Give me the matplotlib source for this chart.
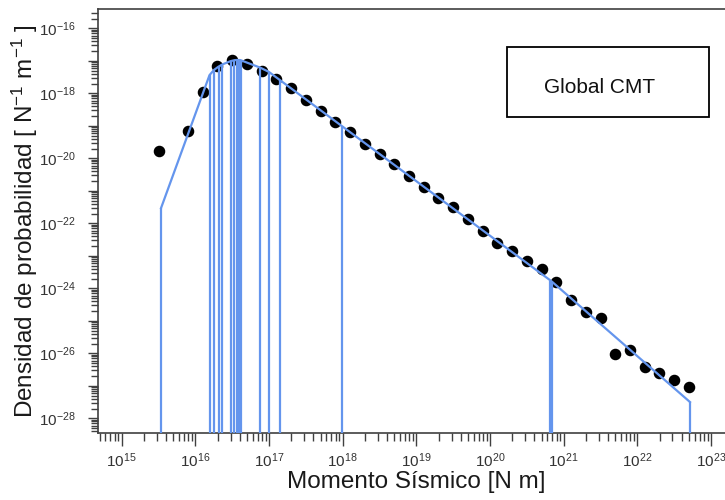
import numpy as np
import matplotlib
matplotlib.use('Agg')
import matplotlib.pyplot as plt
from matplotlib.ticker import LogLocator, FuncFormatter, NullFormatter
from matplotlib.patches import Rectangle

plt.rcParams['font.family'] = ['Liberation Sans', 'DejaVu Sans']
plt.rcParams['mathtext.fontset'] = 'custom'
plt.rcParams['mathtext.rm'] = 'Liberation Sans'
plt.rcParams['mathtext.it'] = 'Liberation Sans:italic'
plt.rcParams['mathtext.default'] = 'regular'

# binned event density (log10 of moment in N m, log10 of density)
bin_logM = [15.5, 15.9, 16.1, 16.3, 16.5, 16.7, 16.9, 17.1, 17.3, 17.5, 17.7, 17.9,
            18.1, 18.3, 18.5, 18.7, 18.9, 19.1, 19.3, 19.5, 19.7, 19.9, 20.1, 20.3,
            20.5, 20.7, 20.9, 21.1, 21.3, 21.5, 21.7, 21.9, 22.1, 22.3, 22.5, 22.7]
bin_logPdf = [-19.78, -19.16, -17.97, -17.16, -16.975, -17.10, -17.30, -17.56, -17.85,
              -18.21, -18.54, -18.87, -19.20, -19.56, -19.88, -20.18, -20.54, -20.89,
              -21.21, -21.51, -21.87, -22.23, -22.62, -22.85, -23.16, -23.41, -23.81,
              -24.36, -24.74, -24.92, -26.03, -25.90, -26.41, -26.60, -26.82, -27.03]

# fitted density evaluated at individual event moments
fit_logM = [15.534, 16.192, 16.253, 16.314, 16.368, 16.478, 16.531, 16.559, 16.586,
            16.613, 16.880, 16.997, 17.146, 17.984, 20.821, 20.848, 22.715]
fit_logPdf = [-21.53, -17.44, -17.28, -17.18, -17.11, -17.01, -16.98, -16.975, -16.975,
              -16.98, -17.21, -17.34, -17.59, -19.00, -23.76, -23.81, -27.50]

xlim_log = (14.678, 23.19)
ylim_log = (-28.452, -15.415)

M = 10.0 ** np.array(bin_logM)
pdf = 10.0 ** np.array(bin_logPdf)
fit_M = 10.0 ** np.array(fit_logM)
fit_pdf = 10.0 ** np.array(fit_logPdf)
ybottom = 10.0 ** ylim_log[0]

fig = plt.figure(figsize=(7.25, 5), dpi=100)
ax = fig.add_axes([98 / 725, 67 / 500, 627 / 725, 423.7 / 500])

blue = '#6495ED'
ax.plot(M, pdf, 'o', color='black', markersize=7.3, zorder=2)
ax.plot(fit_M, fit_pdf, color=blue, lw=1.6, zorder=3)
ax.vlines(fit_M, ybottom, fit_pdf, color=blue, lw=1.6, zorder=3)

ax.set_xscale('log')
ax.set_yscale('log')
ax.set_xlim(10 ** xlim_log[0], 10 ** xlim_log[1])
ax.set_ylim(ybottom, 10 ** ylim_log[1])

ax.xaxis.set_major_locator(LogLocator(base=10, numticks=30))
ax.xaxis.set_minor_locator(LogLocator(base=10, subs=np.arange(2, 10), numticks=300))
ax.yaxis.set_major_locator(LogLocator(base=10, numticks=30))
ax.yaxis.set_minor_locator(LogLocator(base=10, subs=np.arange(2, 10), numticks=300))
ax.xaxis.set_minor_formatter(NullFormatter())
ax.yaxis.set_minor_formatter(NullFormatter())


def fmt_x(v, pos):
    return r'$10^{%d}$' % round(np.log10(v))


def fmt_y(v, pos):
    e = int(round(np.log10(v)))
    if e % 2:
        return ''
    return r'$10^{%d}$' % e


ax.xaxis.set_major_formatter(FuncFormatter(fmt_x))
ax.yaxis.set_major_formatter(FuncFormatter(fmt_y))

spine_col = '#404040'
for side in ['left', 'bottom', 'top']:
    ax.spines[side].set_color(spine_col)
    ax.spines[side].set_linewidth(1.2)
ax.spines['right'].set_visible(False)
ax.tick_params(axis='both', which='both', direction='out', colors=spine_col,
               labelcolor='#333333', labelsize=11, top=False, right=False)
ax.tick_params(axis='x', which='major', length=9, width=1)
ax.tick_params(axis='x', which='minor', length=5.5, width=1)
ax.tick_params(axis='y', which='major', length=7, width=1)
ax.tick_params(axis='y', which='minor', length=5, width=1)
ax.tick_params(axis='x', pad=4)
ax.tick_params(axis='y', pad=9)

ax.set_xlabel('Momento Sísmico [N m]', fontsize=17.5, color='#1a1a1a')
ax.xaxis.set_label_coords(0.507, -0.09)
ax.set_ylabel(r'Densidad de probabilidad [ N$^{-1}$ m$^{-1}$ ]', fontsize=17.5,
              color='#1a1a1a')
ax.yaxis.set_label_coords(-0.092, 0.5)

ax.add_patch(Rectangle((0.652, 0.745), 0.322, 0.165, transform=ax.transAxes,
                       facecolor='white', edgecolor='black', lw=1.3, zorder=4))
ax.text(0.8006, 0.8017, 'Global CMT', transform=ax.transAxes, ha='center',
        va='baseline', fontsize=15, color='#111111', zorder=5)

fig.savefig('out.png', dpi=100)
